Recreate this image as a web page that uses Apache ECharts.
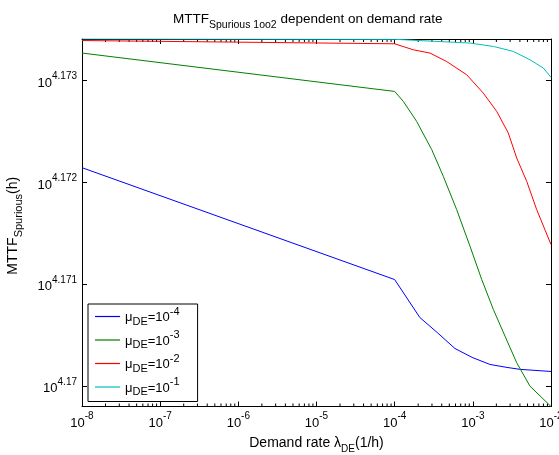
<!DOCTYPE html>
<html>
<head>
<meta charset="utf-8">
<script src="https://cdn.jsdelivr.net/npm/echarts@6/dist/echarts.min.js"></script>
<style>html,body{margin:0;padding:0;background:#fff;}#c{width:559px;height:455px;}</style>
</head>
<body>
<div id="c"></div>
<script>
// Demand rate lambda_DE (1/h) and log10(MTTF_Spurious) for each mu_DE
var lamBlue = [1e-8, 1e-4, 2.1e-4, 3.5e-4, 5.9e-4, 9.8e-4, 1.66e-3, 2.73e-3, 4.0e-3, 1e-2];
var expBlue = [4.172146, 4.171047, 4.170674, 4.170527, 4.170370, 4.170282, 4.170213, 4.170184, 4.170165, 4.170144];

var lamGreen = [1e-8, 1e-4, 1.29e-4, 1.91e-4, 2.98e-4, 4.19e-4, 6.21e-4, 9.2e-4, 1.30e-3, 1.83e-3, 2.58e-3, 3.64e-3, 5.38e-3, 1e-2];
var expGreen = [4.173272, 4.172895, 4.172797, 4.172601, 4.172323, 4.172061, 4.171734, 4.171374, 4.171047, 4.170753, 4.170491, 4.170230, 4.170000, 4.169800];

var lamRed = [1e-8, 1e-4, 1.73e-4, 2.83e-4, 4.62e-4, 8.34e-4, 1.36e-3, 2.02e-3, 2.84e-3, 3.64e-3, 4.89e-3, 6.56e-3, 1e-2];
var expRed = [4.173395, 4.173363, 4.173304, 4.173272, 4.173189, 4.173059, 4.172879, 4.172699, 4.172487, 4.172241, 4.172012, 4.171734, 4.171391];

var lamCyan = [1e-8, 1e-4, 9.2e-4, 1.83e-3, 3.30e-3, 5.38e-3, 7.96e-3, 1e-2];
var expCyan = [4.173412, 4.173407, 4.173370, 4.173337, 4.173288, 4.173206, 4.173125, 4.173034];

var seriesNames = ['-4', '-3', '-2', '-1'];
var seriesColors = ['#0000ff', '#008000', '#ff0000', '#00bfbf'];

var xTicks = [1e-8, 1e-7, 1e-6, 1e-5, 1e-4, 1e-3, 1e-2];
var yTicks = [4.170, 4.171, 4.172, 4.173];
var xMin = 1e-8, xMax = 1e-2;
var yMin = 4.16980, yMax = 4.17341;

var minorTicks = [];
for (var d = -8; d < -2; d++) {
  for (var k = 2; k <= 9; k++) minorTicks.push(k * Math.pow(10, d));
}

function pairs(xs, ys) { return xs.map(function (x, i) { return [x, ys[i]]; }); }
var allLam = [lamBlue, lamGreen, lamRed, lamCyan];
var allExp = [expBlue, expGreen, expRed, expCyan];

var FONT = 'Liberation Sans';
var chart = echarts.init(document.getElementById('c'), null, {renderer: 'canvas'});

var series = seriesNames.map(function (n, i) {
  return {
    name: n,
    type: 'line',
    data: pairs(allLam[i], allExp[i]),
    showSymbol: false,
    symbol: 'none',
    lineStyle: {color: seriesColors[i], width: 1},
    itemStyle: {color: seriesColors[i]},
    animation: false,
    clip: true,
    z: 3
  };
});

series.push({
  type: 'custom',
  silent: true,
  animation: false,
  clip: false,
  data: minorTicks,
  encode: {x: 0},
  renderItem: function (params, api) {
    var v = api.value(0);
    var b = api.coord([v, yMin]);
    var t = api.coord([v, yMax]);
    return {
      type: 'group',
      children: [
        {type: 'line', shape: {x1: b[0], y1: b[1], x2: b[0], y2: b[1] - 3}, style: {stroke: '#000', lineWidth: 1}},
        {type: 'line', shape: {x1: t[0], y1: t[1], x2: t[0], y2: t[1] + 3}, style: {stroke: '#000', lineWidth: 1}}
      ]
    };
  }
});

var supRich = {
  b: {fontFamily: FONT, fontSize: 13, color: '#000', verticalAlign: 'bottom', padding: [0, 0, 0, 0]},
  s: {fontFamily: FONT, fontSize: 10, color: '#000', verticalAlign: 'bottom', padding: [0, 0, 8, 0]}
};

chart.setOption({
  animation: false,
  backgroundColor: '#fff',
  title: {
    text: '{a|MTTF}{s|Spurious 1oo2}{a| dependent on demand rate}',
    left: 168,
    top: 7,
    textStyle: {
      fontWeight: 'normal',
      rich: {
        a: {fontFamily: FONT, fontSize: 13.5, fontWeight: 'normal', color: '#000', verticalAlign: 'bottom', padding: [0, 0, 5, 0]},
        s: {fontFamily: FONT, fontSize: 10.5, fontWeight: 'normal', color: '#000', verticalAlign: 'bottom'}
      }
    }
  },
  grid: {left: 82, right: 8, top: 39, bottom: 48.5, containLabel: false, outerBoundsMode: 'none'},
  legend: {
    show: true,
    data: seriesNames,
    orient: 'vertical',
    left: 88,
    top: 304,
    padding: [2, 18, 4, 7],
    itemGap: 2.5,
    itemWidth: 25,
    itemHeight: 1.2,
    icon: 'rect',
    backgroundColor: '#fff',
    borderColor: '#000',
    borderWidth: 1,
    borderRadius: 0,
    formatter: function (n) {
      return '{n|μ}{sub|DE}{n|=10}{sup|' + n + '}';
    },
    textStyle: {
      rich: {
        n: {fontFamily: FONT, fontSize: 13, color: '#000', verticalAlign: 'bottom', padding: [0, 0, 3, 0]},
        sub: {fontFamily: FONT, fontSize: 11, color: '#000', verticalAlign: 'bottom'},
        sup: {fontFamily: FONT, fontSize: 11, color: '#000', verticalAlign: 'bottom', padding: [0, 0, 10, 0]}
      }
    },
    z: 10
  },
  xAxis: [
    {
      type: 'log',
      logBase: 10,
      min: xMin,
      max: xMax,
      position: 'bottom',
      name: '{n|Demand rate λ}{sub|DE}{n|(1/h)}',
      nameLocation: 'middle',
      nameGap: 30,
      nameTextStyle: {
        rich: {
          n: {fontFamily: FONT, fontSize: 14, color: '#000', verticalAlign: 'bottom', padding: [0, 0, 4, 0]},
          sub: {fontFamily: FONT, fontSize: 10, color: '#000', verticalAlign: 'bottom'}
        }
      },
      axisLine: {show: true, onZero: false, lineStyle: {color: '#000', width: 1}},
      axisTick: {show: true, inside: true, length: 5, customValues: xTicks, lineStyle: {color: '#000'}},
      minorTick: {show: false},
      splitLine: {show: false},
      axisLabel: {
        show: true,
        margin: 5,
        customValues: xTicks,
        formatter: function (v) {
          return '{b|10}{s|' + Math.round(Math.log10(v)) + '}';
        },
        rich: supRich
      }
    },
    {
      type: 'log',
      logBase: 10,
      min: xMin,
      max: xMax,
      position: 'top',
      axisLine: {show: true, onZero: false, lineStyle: {color: '#000', width: 1}},
      axisTick: {show: true, inside: true, length: 5, customValues: xTicks, lineStyle: {color: '#000'}},
      axisLabel: {show: false},
      splitLine: {show: false}
    }
  ],
  yAxis: [
    {
      type: 'value',
      min: yMin,
      max: yMax,
      position: 'left',
      name: '{n|MTTF}{sub|Spurious}{n|(h)}{p| }',
      nameLocation: 'middle',
      nameRotate: 90,
      nameGap: 58,
      nameTextStyle: {
        rich: {
          n: {fontFamily: FONT, fontSize: 14, color: '#000', verticalAlign: 'bottom', padding: [0, 0, 4, 0]},
          sub: {fontFamily: FONT, fontSize: 11, color: '#000', verticalAlign: 'bottom', padding: [0, 0, 0, 0]},
          p: {fontFamily: FONT, fontSize: 14, color: '#000', verticalAlign: 'bottom', width: 6}
        }
      },
      axisLine: {show: true, onZero: false, lineStyle: {color: '#000', width: 1}},
      axisTick: {show: true, inside: true, length: 5, customValues: yTicks, lineStyle: {color: '#000'}},
      splitLine: {show: false},
      axisLabel: {
        show: true,
        margin: 5,
        customValues: yTicks,
        formatter: function (v) {
          var s = v.toFixed(3).replace(/0+$/, '');
          return '{b|10}{s|' + s + '}';
        },
        rich: supRich
      }
    },
    {
      type: 'value',
      min: yMin,
      max: yMax,
      position: 'right',
      axisLine: {show: true, onZero: false, lineStyle: {color: '#000', width: 1}},
      axisTick: {show: true, inside: true, length: 5, customValues: yTicks, lineStyle: {color: '#000'}},
      axisLabel: {show: false},
      splitLine: {show: false}
    }
  ],
  series: series
});
</script>
</body>
</html>
